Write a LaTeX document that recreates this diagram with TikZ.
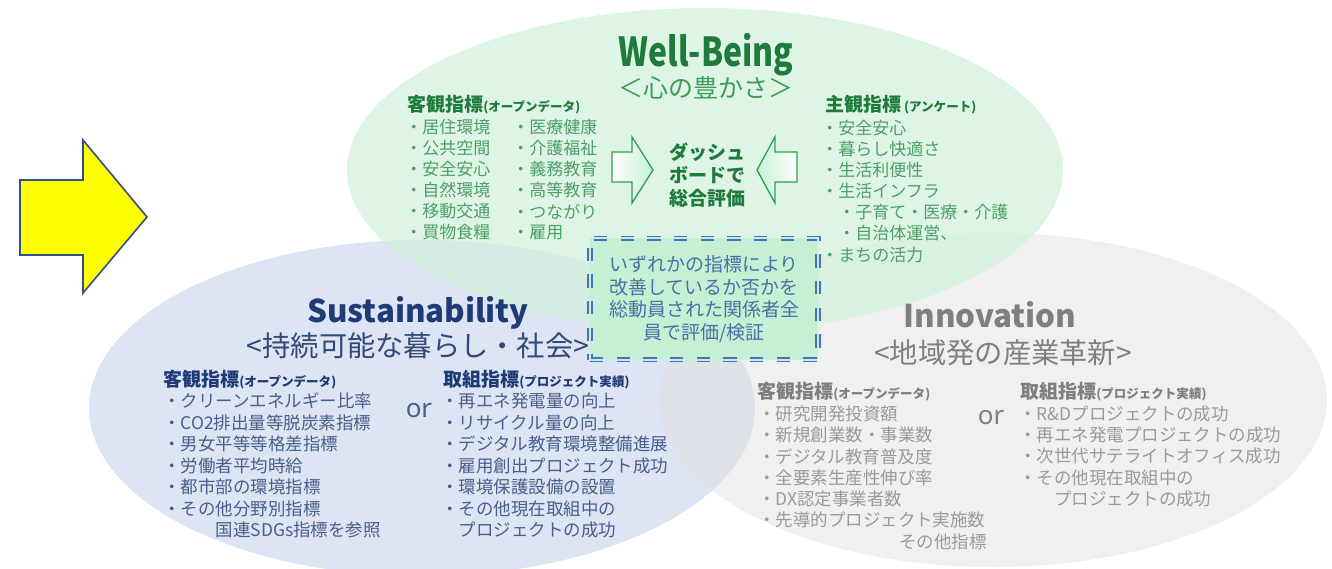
\documentclass[tikz,border=0pt]{standalone}
\usepackage{fontspec}
\setmainfont{Noto Sans CJK JP}
\newfontfamily\latinsans{Noto Sans}
\newfontfamily\titlecjk{Noto Sans CJK JP}
\newfontfamily\narrowcjk[FakeStretch=0.8]{Noto Sans CJK JP}
\usepackage{tikz}
\usetikzlibrary{positioning}

\definecolor{wbfill}{HTML}{D0F1DB}
\definecolor{wbdark}{HTML}{1E7B3C}
\definecolor{wbsub}{HTML}{3D9A5A}
\definecolor{wbtext}{HTML}{4E9E68}
\definecolor{sufill}{HTML}{DDE4F3}
\definecolor{sudark}{HTML}{1F3A75}
\definecolor{susub}{HTML}{33497A}
\definecolor{sutext}{HTML}{4A5E8C}
\definecolor{infill}{HTML}{E1E1E1}
\definecolor{indark}{HTML}{7F7F7F}
\definecolor{intext}{HTML}{9A9A9A}
\definecolor{boxfill}{HTML}{C6F0D4}
\definecolor{boxblue}{HTML}{4472C4}
\definecolor{boxtext}{HTML}{4A6FA5}
\definecolor{arrowgreen}{HTML}{2EA04E}
\definecolor{yarrowfill}{HTML}{FFFF00}
\definecolor{yarrowline}{HTML}{2F4F8F}

\newcommand{\idxhead}[2]{{\fontsize{14.25}{16}\selectfont\bfseries #1}{\fontsize{9.4}{12}\selectfont\bfseries #2}}

\tikzset{
  wbitem/.style={anchor=west, inner sep=0pt, text=wbtext, font=\fontsize{12.75}{15}\selectfont},
  suitem/.style={anchor=west, inner sep=0pt, text=sutext, font=\fontsize{13.1}{15}\selectfont},
  initem/.style={anchor=west, inner sep=0pt, text=intext, font=\fontsize{13.1}{15}\selectfont},
  idxhd/.style={anchor=west, inner sep=0pt},
  bigtitle/.style={inner sep=0pt, font=\titlecjk\fontsize{23.5}{27}\selectfont\bfseries},
  narrowtitle/.style={inner sep=0pt, font=\narrowcjk\fontsize{30}{34}\selectfont\bfseries},
  subtitle/.style={inner sep=0pt, font=\fontsize{21.2}{24}\selectfont},
  ornode/.style={inner sep=0pt, font=\latinsans\fontsize{19.5}{22}\selectfont},
  blockarrow/.style={draw=arrowgreen, line width=1pt, line join=miter},
  evalbox/.style={draw=boxblue, double=boxfill, double distance=1.6pt, line width=1.2pt,
    dash pattern=on 10pt off 10pt, fill=boxfill, minimum width=171pt, minimum height=91pt,
    inner sep=0pt, align=center, text=boxtext, font=\fontsize{14.25}{16.9}\selectfont},
}

\begin{document}
\begin{tikzpicture}[x=0.75pt,y=-0.75pt]
\useasboundingbox (0,0) rectangle (1332,568);
\fill[sufill] (422,408) ellipse (333 and 168);
\fill[infill, fill opacity=0.5] (993,400) ellipse (334 and 167);
\fill[wbfill, fill opacity=0.7] (705,170) ellipse (358 and 162);

\draw[draw=yarrowline, fill=yarrowfill, line width=1.2pt, line join=miter] (20,180) -- (83,180) -- (83,140) -- (147,217) -- (83,293) -- (83,255) -- (20,255) -- cycle;

% Well-Being
\node[narrowtitle, text=wbdark] (wbtitle) at (706,55) {Well-Being};
\node[subtitle, text=wbsub, font=\fontsize{18.75}{22}\selectfont] (wbsubt) at (706,88) {＜心の豊かさ＞};
\node[idxhd, text=wbdark] (wbobj) at (407,105) {\idxhead{客観指標}{(オープンデータ)}};
\node[idxhd, text=wbdark] (wbsubj) at (825,105) {\idxhead{主観指標}{ (アンケート)}};
\foreach \t [count=\i from 0] in {居住環境,公共空間,安全安心,自然環境,移動交通,買物食糧}
  \node[wbitem] (wba\i) at (405,127+21.1*\i) {・\t};
\foreach \t [count=\i from 0] in {医療健康,介護福祉,義務教育,高等教育,つながり,雇用}
  \node[wbitem] (wbb\i) at (512,127+21.1*\i) {・\t};
\foreach \t [count=\i from 0] in {・安全安心,・暮らし快適さ,・生活利便性,・生活インフラ,　・子育て・医療・介護,　・自治体運営、,・まちの活力}
  \node[wbitem] (wbc\i) at (821,128+21.1*\i) {\t};
\draw[blockarrow, left color=white, right color=boxfill] (612,152) -- (632,152) -- (632,137) -- (653,170) -- (632,203) -- (632,182) -- (612,182) -- cycle;
\draw[blockarrow, left color=boxfill, right color=white] (797,152) -- (775,152) -- (775,137) -- (757,170) -- (775,203) -- (775,182) -- (797,182) -- cycle;
\node[align=center, text=wbdark, font=\fontsize{14.25}{17.25}\selectfont\bfseries] (dash) at (707,175) {ダッシュ\\ボードで\\総合評価};

\node[evalbox] (eval) at (704,299) {いずれかの指標により\\改善しているか否かを\\総動員された関係者全\\員で評価/検証};

% Sustainability
\node[bigtitle, text=sudark] (sutitle) at (418,313) {Sustainability};
\node[subtitle, text=susub] (susubt) at (418,346) {<持続可能な暮らし・社会>};
\node[idxhd, text=sudark] (suobj) at (163,380) {\idxhead{客観指標}{(オープンデータ)}};
\node[idxhd, text=sudark] (suprj) at (443,380) {\idxhead{取組指標}{(プロジェクト実績)}};
\node[ornode, text=sutext] (suor) at (419,411) {or};
\foreach \t [count=\i from 0] in {・クリーンエネルギー比率,・CO2排出量等脱炭素指標,・男女平等等格差指標,・労働者平均時給,・都市部の環境指標,・その他分野別指標,　　　国連SDGs指標を参照}
  \node[suitem] (sua\i) at (163,401+21.5*\i) {\t};
\foreach \t [count=\i from 0] in {・再エネ発電量の向上,・リサイクル量の向上,・デジタル教育環境整備進展,・雇用創出プロジェクト成功,・環境保護設備の設置,・その他現在取組中の,　プロジェクトの成功}
  \node[suitem] (sub\i) at (441,401+21.5*\i) {\t};

% Innovation
\node[bigtitle, text=indark] (intitle) at (990,315) {Innovation};
\node[subtitle, text=indark] (insubt) at (1003,353) {<地域発の産業革新>};
\node[idxhd, text=indark] (inobj) at (757,392) {\idxhead{客観指標}{(オープンデータ)}};
\node[idxhd, text=indark] (inprj) at (1020,392) {\idxhead{取組指標}{(プロジェクト実績)}};
\node[ornode, text=indark] (inor) at (991,418) {or};
\foreach \t [count=\i from 0] in {・研究開発投資額,・新規創業数・事業数,・デジタル教育普及度,・全要素生産性伸び率,・DX認定事業者数,・先導的プロジェクト実施数}
  \node[initem] (ina\i) at (758,414+21.2*\i) {\t};
\node[initem, anchor=east] (inetc) at (987,542) {その他指標};
\foreach \t [count=\i from 0] in {・R\&Dプロジェクトの成功,・再エネ発電プロジェクトの成功,・次世代サテライトオフィス成功,・その他現在取組中の,　　プロジェクトの成功}
  \node[initem] (inb\i) at (1019,414+21.2*\i) {\t};
\end{tikzpicture}
\end{document}
